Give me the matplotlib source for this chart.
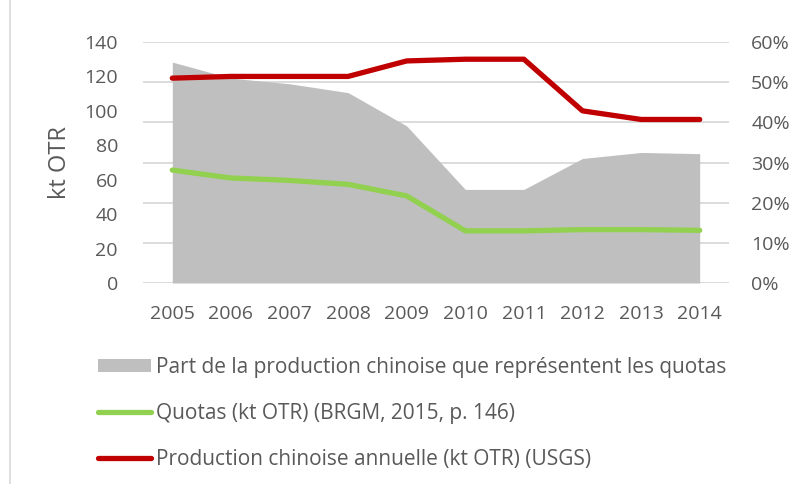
import matplotlib
matplotlib.use("Agg")
import matplotlib.pyplot as plt
from matplotlib.ticker import FuncFormatter, MultipleLocator
from matplotlib.lines import Line2D

# data
years = [2005, 2006, 2007, 2008, 2009, 2010, 2011, 2012, 2013, 2014]
quotas = [65.6, 61.0, 59.6, 57.3, 50.6, 30.3, 30.3, 31.0, 31.0, 30.6]
production = [119, 120, 120, 120, 129, 130, 130, 100, 95, 95]
part_pct = [55.0, 51.0, 49.6, 47.4, 39.1, 23.3, 23.3, 31.0, 32.5, 32.2]

label_area = "Part de la production chinoise que représentent les quotas"
label_quotas = "Quotas (kt OTR) (BRGM, 2015, p. 146)"
label_prod = "Production chinoise annuelle (kt OTR) (USGS)"

text_col = "#595959"
grid_col = "#D9D9D9"
plt.rcParams['font.family'] = ['Open Sans', 'DejaVu Sans']

fig = plt.figure(figsize=(7.97, 4.84), dpi=100)
ax = fig.add_axes([143 / 797, 1 - 283 / 484, (729 - 143) / 797, (283 - 42) / 484])
ax2 = ax.twinx()

x = list(range(len(years)))

# area on the percent axis, below the lines
ax2.fill_between(x, part_pct, 0, color="#BFBFBF", linewidth=0, zorder=2)
ax2.set_ylim(0, 60)
ax2.yaxis.set_major_locator(MultipleLocator(10))
ax2.yaxis.set_major_formatter(FuncFormatter(lambda v, p: "%d%%" % v))
ax2.set_axisbelow(True)
ax2.grid(axis="y", color=grid_col, linewidth=1.3, zorder=0)

ax.set_zorder(ax2.get_zorder() + 1)
ax.patch.set_visible(False)
ax.plot(x, quotas, color="#92D050", linewidth=3.8, solid_capstyle="round")
ax.plot(x, production, color="#C00000", linewidth=3.8, solid_capstyle="round")
ax.set_ylim(0, 140)
ax.yaxis.set_major_locator(MultipleLocator(20))
ax.set_xlim(-0.5, len(years) - 0.5)
ax.set_xticks(x)
ax.set_xticklabels([str(y) for y in years])
ax.set_ylabel("kt OTR", fontsize=17, color=text_col, labelpad=9)

for a in (ax, ax2):
    for s in a.spines.values():
        s.set_visible(False)
    a.tick_params(length=0, labelsize=14, colors=text_col)
ax.tick_params(axis="y", pad=18)
ax.tick_params(axis="x", pad=16)
ax2.tick_params(axis="y", pad=16)

handles = [
    plt.Rectangle((0, 0), 1, 1, color="#BFBFBF", linewidth=0),
    Line2D([], [], color="#92D050", linewidth=3.8, solid_capstyle="round"),
    Line2D([], [], color="#C00000", linewidth=3.8, solid_capstyle="round"),
]
leg = fig.legend(handles, [label_area, label_quotas, label_prod],
                 loc="upper left", bbox_to_anchor=(98 / 797, 1 - 357 / 484),
                 frameon=False, fontsize=15, labelcolor=text_col,
                 borderpad=0, borderaxespad=0, handlelength=2.55,
                 handletextpad=0.25, labelspacing=1.2, handleheight=0.58)

# light frame line on the left
fig.add_artist(Line2D([10 / 797, 10 / 797], [0, 1], color=grid_col, linewidth=1.2))

fig.savefig("out.png", dpi=100)
